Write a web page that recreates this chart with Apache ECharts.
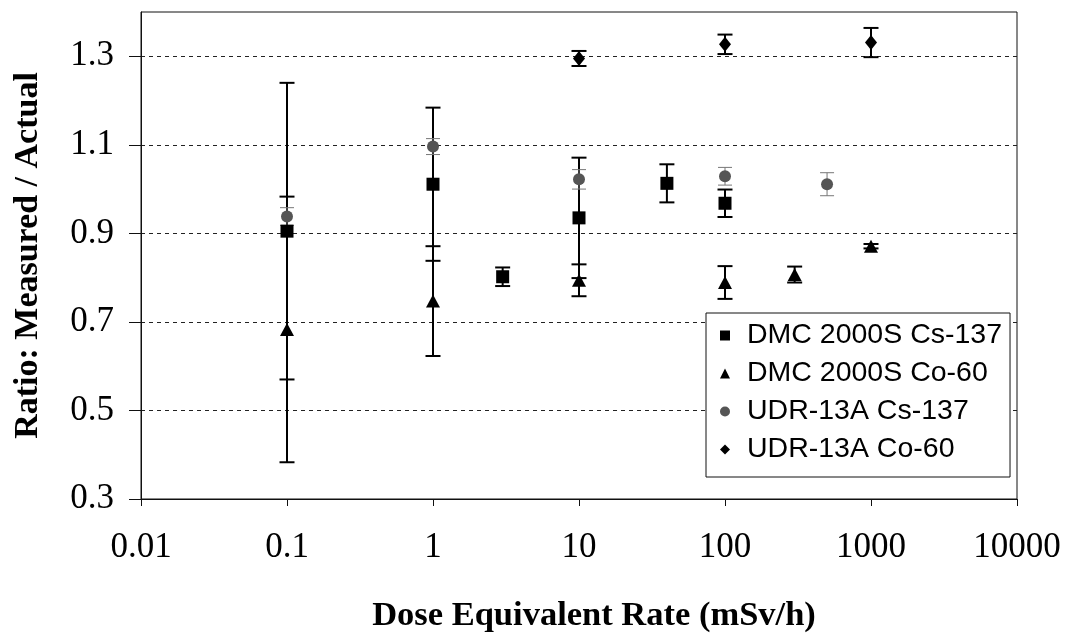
<!DOCTYPE html>
<html><head><meta charset="utf-8">
<script src="https://cdn.jsdelivr.net/npm/echarts@6/dist/echarts.min.js"></script>
<style>html,body{margin:0;padding:0;background:#fff}#c{width:1070px;height:637px}</style>
</head><body><div id="c"></div>
<script>
const seriesNames = ['DMC 2000S Cs-137', 'DMC 2000S Co-60', 'UDR-13A Cs-137', 'UDR-13A Co-60'];

const dmcCsX   = [0.1, 1, 3, 10, 40, 100];
const dmcCsY   = [0.905, 1.011, 0.802, 0.935, 1.013, 0.968];
const dmcCsErr = [0.335, 0.173, 0.021, 0.136, 0.043, 0.031];

const dmcCoX   = [0.1, 1, 10, 100, 300, 1000];
const dmcCoY   = [0.683, 0.747, 0.794, 0.789, 0.807, 0.871];
const dmcCoErr = [0.300, 0.124, 0.036, 0.037, 0.018, 0.005];

const udrCsX   = [0.1, 1, 10, 100, 500];
const udrCsY   = [0.938, 1.096, 1.022, 1.029, 1.011];
const udrCsErr = [0.020, 0.018, 0.022, 0.020, 0.026];

const udrCoX   = [10, 100, 1000];
const udrCoY   = [1.295, 1.327, 1.331];
const udrCoErr = [0.017, 0.022, 0.033];

const yTickValues = [0.3, 0.5, 0.7, 0.9, 1.1, 1.3];
const xTickLabels = ['0.01', '0.1', '1', '10', '100', '1000', '10000'];

function pts(xs, ys) { return xs.map((x, i) => [x, ys[i]]); }
function errs(xs, ys, es) { return xs.map((x, i) => [x, ys[i] - es[i], ys[i] + es[i]]); }

function errRender(color, lw, cap) {
  return function (params, api) {
    const x = api.value(0), lo = api.value(1), hi = api.value(2);
    const a = api.coord([x, hi]), b = api.coord([x, lo]);
    const h = cap / 2;
    const st = { stroke: color, lineWidth: lw };
    return {
      type: 'group',
      children: [
        { type: 'line', shape: { x1: a[0], y1: a[1], x2: b[0], y2: b[1] }, style: st },
        { type: 'line', shape: { x1: a[0] - h, y1: a[1], x2: a[0] + h, y2: a[1] }, style: st },
        { type: 'line', shape: { x1: b[0] - h, y1: b[1], x2: b[0] + h, y2: b[1] }, style: st }
      ]
    };
  };
}

const serif = 'Liberation Serif';
const chart = echarts.init(document.getElementById('c'), null, { renderer: 'canvas' });
chart.setOption({
  animation: false,
  backgroundColor: '#fff',
  grid: { left: 141, right: 53, top: 12, bottom: 138, show: true, borderColor: '#111', borderWidth: 1,
          containLabel: false, outerBoundsMode: 'none' },
  xAxis: {
    type: 'log', logBase: 10, min: 0.01, max: 10000, interval: 1,
    name: 'Dose Equivalent Rate (mSv/h)', nameLocation: 'middle', nameGap: 100,
    nameTextStyle: { fontFamily: serif, fontWeight: 'bold', fontSize: 34.5, color: '#000', padding: [0, 0, 0, 30] },
    axisLine: { show: true, lineStyle: { color: '#111', width: 1 } },
    axisTick: { show: true, inside: false, length: 7, lineStyle: { color: '#111' } },
    axisLabel: {
      fontFamily: serif, fontSize: 35, color: '#000', margin: 31,
      formatter: v => xTickLabels[Math.round(Math.log10(v)) + 2]
    },
    splitLine: { show: false },
    minorTick: { show: false }
  },
  yAxis: {
    type: 'value', min: 0.3, max: 1.4,
    name: 'Ratio: Measured / Actual', nameLocation: 'middle', nameGap: 96, nameRotate: 90,
    nameTextStyle: { fontFamily: serif, fontWeight: 'bold', fontSize: 34, color: '#000' },
    axisLine: { show: true, lineStyle: { color: '#111', width: 1 } },
    axisTick: { show: true, inside: false, length: 12, customValues: yTickValues, lineStyle: { color: '#111' } },
    axisLabel: {
      fontFamily: serif, fontSize: 35, color: '#000', margin: 27,
      customValues: yTickValues, formatter: v => v.toFixed(1)
    },
    splitLine: { show: true, lineStyle: { color: '#222', width: 1, type: [4, 4] } }
  },
  legend: {
    orient: 'vertical', left: 706, top: 313,
    data: seriesNames,
    backgroundColor: '#fff', borderColor: '#111', borderWidth: 1,
    padding: [8, 8, 13, 14], itemGap: 9, itemWidth: 10, itemHeight: 10,
    textStyle: { fontFamily: 'Liberation Sans', fontSize: 28.5, color: '#000', padding: [0, 0, 0, 12] }
  },
  series: [
    { type: 'custom', name: 'e1', renderItem: errRender('#000', 2, 15), encode: { x: 0, y: [1, 2] }, data: errs(dmcCsX, dmcCsY, dmcCsErr), z: 2 },
    { type: 'custom', name: 'e2', renderItem: errRender('#000', 2, 15), encode: { x: 0, y: [1, 2] }, data: errs(dmcCoX, dmcCoY, dmcCoErr), z: 2 },
    { type: 'custom', name: 'e3', renderItem: errRender('#777', 1, 14), encode: { x: 0, y: [1, 2] }, data: errs(udrCsX, udrCsY, udrCsErr), z: 2 },
    { type: 'custom', name: 'e4', renderItem: errRender('#000', 2, 15), encode: { x: 0, y: [1, 2] }, data: errs(udrCoX, udrCoY, udrCoErr), z: 2 },
    { type: 'scatter', name: seriesNames[0], symbol: 'rect', symbolSize: 13, itemStyle: { color: '#000', opacity: 1 }, data: pts(dmcCsX, dmcCsY), z: 3 },
    { type: 'scatter', name: seriesNames[1], symbol: 'triangle', symbolSize: [14, 13], itemStyle: { color: '#000', opacity: 1 }, data: pts(dmcCoX, dmcCoY), z: 3 },
    { type: 'scatter', name: seriesNames[2], symbol: 'circle', symbolSize: 12, itemStyle: { color: '#555', opacity: 1 }, data: pts(udrCsX, udrCsY), z: 3 },
    { type: 'scatter', name: seriesNames[3], symbol: 'diamond', symbolSize: [12, 15], itemStyle: { color: '#000', opacity: 1 }, data: pts(udrCoX, udrCoY), z: 3 }
  ]
});
</script>
</body></html>
